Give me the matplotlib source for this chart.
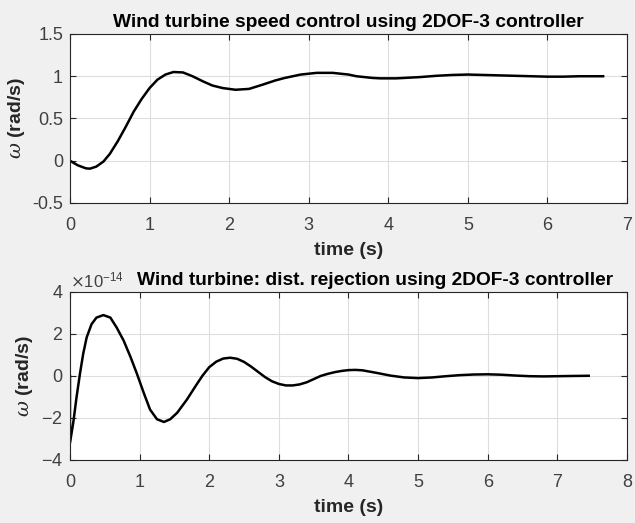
import matplotlib
matplotlib.use("Agg")
import matplotlib.pyplot as plt
from matplotlib.ticker import ScalarFormatter

plt.rcParams["font.family"] = ["Liberation Sans", "DejaVu Sans"]
plt.rcParams["mathtext.fontset"] = "dejavuserif"
plt.rcParams["axes.unicode_minus"] = False

# speed response (rad/s)
t_speed = [0.0, 0.1, 0.2, 0.25, 0.33, 0.42, 0.5, 0.6, 0.7, 0.8, 0.9, 1.0,
           1.1, 1.2, 1.3, 1.42, 1.54, 1.67, 1.79, 1.92, 2.08, 2.25, 2.42,
           2.58, 2.7, 2.8, 2.9, 3.0, 3.1, 3.2, 3.3, 3.4, 3.5, 3.6, 3.7,
           3.8, 3.9, 4.0, 4.1, 4.2, 4.4, 4.6, 4.8, 5.0, 5.2, 5.4, 5.6,
           5.8, 6.0, 6.2, 6.4, 6.7]
w_speed = [0.00, -0.055, -0.09, -0.094, -0.07, -0.01, 0.08, 0.23, 0.40,
           0.58, 0.73, 0.86, 0.96, 1.02, 1.05, 1.045, 1.0, 0.94, 0.89, 0.86,
           0.84, 0.85, 0.90, 0.95, 0.98, 1.00, 1.02, 1.03, 1.04, 1.04, 1.04,
           1.03, 1.02, 1.00, 0.99, 0.98, 0.975, 0.975, 0.975, 0.98, 0.99,
           1.005, 1.015, 1.02, 1.015, 1.01, 1.005, 1.0, 0.995, 0.995, 1.0,
           1.0]

# disturbance response (x 1e-14 rad/s)
t_dist = [0.0, 0.0, 0.048, 0.096, 0.144, 0.19, 0.24, 0.31, 0.38, 0.48,
          0.58, 0.67, 0.77, 0.87, 0.96, 1.06, 1.15, 1.25, 1.35, 1.44,
          1.54, 1.68, 1.8, 1.9, 2.0, 2.1, 2.2, 2.3, 2.4, 2.5, 2.6, 2.7,
          2.8, 2.9, 3.0, 3.1, 3.2, 3.3, 3.4, 3.5, 3.6, 3.7, 3.8, 3.9,
          4.0, 4.1, 4.2, 4.4, 4.6, 4.8, 5.0, 5.2, 5.4, 5.6, 5.8, 6.0,
          6.2, 6.4, 6.6, 6.8, 7.0, 7.2, 7.45]
w_dist = [0.0, -3.19, -2.2, -0.97, 0.12, 1.06, 1.84, 2.47, 2.78, 2.9,
          2.78, 2.31, 1.69, 0.9, 0.12, -0.81, -1.6, -2.06, -2.19, -2.06,
          -1.75, -1.12, -0.5, 0.0, 0.42, 0.68, 0.83, 0.87, 0.82, 0.67,
          0.45, 0.2, -0.05, -0.25, -0.38, -0.45, -0.45, -0.4, -0.3, -0.15,
          0.0, 0.1, 0.18, 0.24, 0.28, 0.29, 0.27, 0.15, 0.02, -0.07, -0.1,
          -0.07, -0.01, 0.04, 0.07, 0.08, 0.06, 0.02, -0.01, -0.02, -0.01,
          0.0, 0.01]
w_dist = [v * 1e-14 for v in w_dist]

fig = plt.figure(figsize=(6.35, 5.23), dpi=100, facecolor="#f0f0f0")
ax1 = fig.add_axes([0.1102, 0.6119, 0.8772, 0.3231])
ax2 = fig.add_axes([0.1102, 0.1205, 0.8772, 0.3212])

for ax in (ax1, ax2):
    ax.set_facecolor("white")
    ax.grid(True, color="#dedede", linewidth=0.8)
    ax.set_axisbelow(True)
    ax.tick_params(direction="in", length=4, top=True, right=True,
                   labelsize=13, colors="#262626", labelcolor="#404040", pad=5)
    ax.tick_params(axis="x", pad=10)
    for s in ax.spines.values():
        s.set_color("#262626")
        s.set_linewidth(0.8)

ax1.plot(t_speed, w_speed, color="black", linewidth=1.8)
ax1.set_xlim(0, 7)
ax1.set_ylim(-0.5, 1.5)
ax1.set_xticks([0, 1, 2, 3, 4, 5, 6, 7])
ax1.set_yticks([-0.5, 0, 0.5, 1, 1.5])
ax1.set_yticklabels(["-0.5", "0", "0.5", "1", "1.5"])
ax1.set_xlabel("time (s)", fontsize=14, fontweight="bold", color="#262626", labelpad=6)
ax1.set_ylabel(r"$\omega$ (rad/s)", fontsize=14, fontweight="bold", color="#262626")
ax1.set_title("Wind turbine speed control using 2DOF-3 controller",
              fontsize=13.8, fontweight="bold", pad=5)

ax2.plot(t_dist, w_dist, color="black", linewidth=1.8)
ax2.set_xlim(0, 8)
ax2.set_ylim(-4e-14, 4e-14)
ax2.set_xticks([0, 1, 2, 3, 4, 5, 6, 7, 8])
ax2.set_yticks([-4e-14, -2e-14, 0, 2e-14, 4e-14])
fmt = ScalarFormatter(useMathText=True)
fmt.set_powerlimits((0, 0))
ax2.yaxis.set_major_formatter(fmt)
ax2.yaxis.get_offset_text().set_fontsize(12)
ax2.yaxis.get_offset_text().set_color("#404040")
ax2.set_xlabel("time (s)", fontsize=14, fontweight="bold", color="#262626", labelpad=6)
ax2.set_ylabel(r"$\omega$ (rad/s)", fontsize=14, fontweight="bold", color="#262626")
ax2.set_title("Wind turbine: dist. rejection using 2DOF-3 controller",
              fontsize=13.8, fontweight="bold", pad=5, x=0.548)

fig.savefig("out.png", dpi=100, facecolor=fig.get_facecolor())
